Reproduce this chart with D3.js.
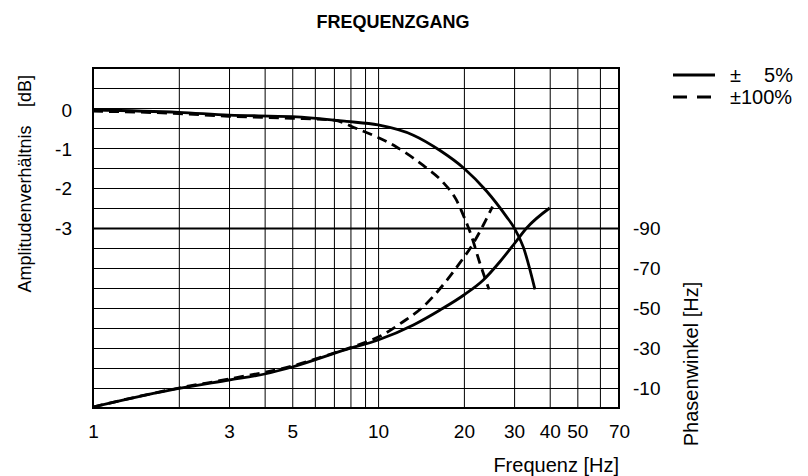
<!DOCTYPE html>
<html>
<head>
<meta charset="utf-8">
<script src="https://cdn.jsdelivr.net/npm/d3@7"></script>
<style>
  body { margin: 0; background: #fff; }
  text { font-family: "Liberation Sans", Arial, sans-serif; fill: #000; }
</style>
</head>
<body>
<div id="chart"></div>
<script>
// Achsen / Ticks
const gridFreqs = [1, 2, 3, 4, 5, 6, 7, 8, 9, 10, 20, 30, 40, 50, 60, 70];
const freqLabels = [1, 3, 5, 10, 20, 30, 40, 50, 70];
const dbTicks = [0, -1, -2, -3];
const phaseTicks = [-10, -30, -50, -70, -90];
const phaseGrid = d3.range(0, -171, -10);

// Amplitude [dB], +-5%
const ampFreq5 = [1, 2, 3, 5, 7.75, 10, 13.3, 16.5, 20, 24, 28.2, 30, 32.3, 35.5];
const ampDb5 = [0, -0.06, -0.13, -0.17, -0.29, -0.38, -0.64, -1.03, -1.48, -2.06, -2.71, -2.99, -3.48, -4.56];
// Amplitude [dB], +-100%
const ampFreq100 = [1, 2, 3, 5, 7, 8.4, 11.6, 14.4, 16.9, 18.8, 20, 21.3, 22.7, 24.5];
const ampDb100 = [-0.03, -0.09, -0.16, -0.21, -0.26, -0.47, -0.94, -1.41, -1.84, -2.28, -2.71, -3.22, -3.87, -4.56];
// Phase [Grad], +-5%
const phFreq5 = [1, 2, 3, 4, 5, 7.75, 10, 13.3, 16.5, 20, 23.4, 26.7, 30, 33.2, 40];
const phDeg5 = [-0.5, -9.8, -14, -17, -20.5, -29.3, -34, -41.5, -49, -56.5, -64, -73, -82, -90, -100];
// Phase [Grad], +-100%
const phFreq100 = [1, 2, 3, 5, 7, 8.5, 10.1, 12.2, 14.4, 16.9, 19.3, 21.5, 23.4, 25.2];
const phDeg100 = [-0.5, -10, -14.5, -21, -27.5, -31.5, -35.7, -43, -50.7, -61.5, -72.3, -82, -91.5, -100.7];

const W = 808, H = 476;
const m = {top: 68, right: 189, bottom: 68, left: 93};
const iw = W - m.left - m.right, ih = H - m.top - m.bottom;

const svg = d3.select("#chart").append("svg")
    .attr("width", W).attr("height", H);

const x = d3.scaleLog().domain([1, 70]).range([m.left, m.left + iw]);
const yPh = d3.scaleLinear().domain([0, -170]).range([m.top + ih, m.top]);
// dB-Skala: 0 dB und -3 dB liegen auf festen Phasenhoehen
const yDb = d3.scaleLinear().domain([0, -3]).range([yPh(-149), yPh(-90)]);

// Gitter
svg.append("g")
    .attr("transform", `translate(0,${m.top + ih})`)
    .call(d3.axisBottom(x).tickValues(gridFreqs).tickSize(-ih).tickFormat(""))
    .call(g => g.select(".domain").remove())
    .call(g => g.selectAll("line").attr("stroke", "#000").attr("stroke-width", 1));

svg.append("g")
    .attr("transform", `translate(${m.left},0)`)
    .call(d3.axisLeft(yPh).tickValues(phaseGrid).tickSize(-iw).tickFormat(""))
    .call(g => g.select(".domain").remove())
    .call(g => g.selectAll("line")
        .attr("stroke", "#000")
        .attr("stroke-width", d => d === -90 ? 2 : 1));

// Rahmen
svg.append("rect")
    .attr("x", m.left).attr("y", m.top)
    .attr("width", iw).attr("height", ih)
    .attr("fill", "none").attr("stroke", "#000").attr("stroke-width", 2);

// Beschriftungen der Achsen
const fmt = d => String(d);
const styleText = size => g => g.selectAll("text")
    .attr("font-size", size)
    .style("font-family", "Liberation Sans, Arial");

svg.append("g")
    .attr("transform", `translate(0,${m.top + ih})`)
    .call(d3.axisBottom(x).tickValues(freqLabels).tickSize(0).tickPadding(17).tickFormat(fmt))
    .call(g => g.select(".domain").remove())
    .call(styleText(19));

svg.append("g")
    .attr("transform", `translate(${m.left},0)`)
    .call(d3.axisLeft(yDb).tickValues(dbTicks).tickSize(0).tickPadding(21).tickFormat(fmt))
    .call(g => g.select(".domain").remove())
    .call(styleText(19));

svg.append("g")
    .attr("transform", `translate(${m.left + iw},0)`)
    .call(d3.axisRight(yPh).tickValues(phaseTicks).tickSize(0).tickPadding(14).tickFormat(fmt))
    .call(g => g.select(".domain").remove())
    .call(styleText(19));

// Kurven
const line = d3.line().curve(d3.curveMonotoneX);
function curve(fs, vs, yScale, dash) {
    svg.append("path")
        .attr("d", line(fs.map((f, i) => [x(f), yScale(vs[i])])))
        .attr("fill", "none")
        .attr("stroke", "#000")
        .attr("stroke-width", 2.8)
        .attr("stroke-dasharray", dash);
}
curve(ampFreq5, ampDb5, yDb, null);
curve(ampFreq100, ampDb100, yDb, "10,6");
curve(phFreq5, phDeg5, yPh, null);
curve(phFreq100, phDeg100, yPh, "10,6");

// Titel
svg.append("text")
    .attr("x", 393).attr("y", 28)
    .attr("text-anchor", "middle")
    .attr("font-size", 18).attr("font-weight", "bold")
    .text("FREQUENZGANG");

svg.append("text")
    .attr("x", m.left + iw).attr("y", 472)
    .attr("text-anchor", "end").attr("font-size", 20)
    .text("Frequenz [Hz]");

svg.append("text")
    .attr("transform", "translate(31,209) rotate(-90)")
    .attr("text-anchor", "middle").attr("font-size", 18)
    .text("Amplitudenverhältnis");
svg.append("text")
    .attr("transform", "translate(31,91) rotate(-90)")
    .attr("text-anchor", "middle").attr("font-size", 18)
    .text("[dB]");

svg.append("text")
    .attr("transform", "translate(698,364) rotate(-90)")
    .attr("text-anchor", "middle").attr("font-size", 20)
    .text("Phasenwinkel [Hz]");

// Legende
const legend = svg.append("g");
legend.append("line").attr("x1", 673).attr("x2", 715).attr("y1", 75).attr("y2", 75)
    .attr("stroke", "#000").attr("stroke-width", 2.8);
legend.append("line").attr("x1", 673).attr("x2", 715).attr("y1", 97).attr("y2", 97)
    .attr("stroke", "#000").attr("stroke-width", 2.8).attr("stroke-dasharray", "14,10");
legend.append("text").attr("x", 730).attr("y", 82).attr("font-size", 20).text("±");
legend.append("text").attr("x", 793).attr("y", 82).attr("text-anchor", "end").attr("font-size", 20).text("5%");
legend.append("text").attr("x", 730).attr("y", 104).attr("font-size", 20).text("±100%");
</script>
</body>
</html>
